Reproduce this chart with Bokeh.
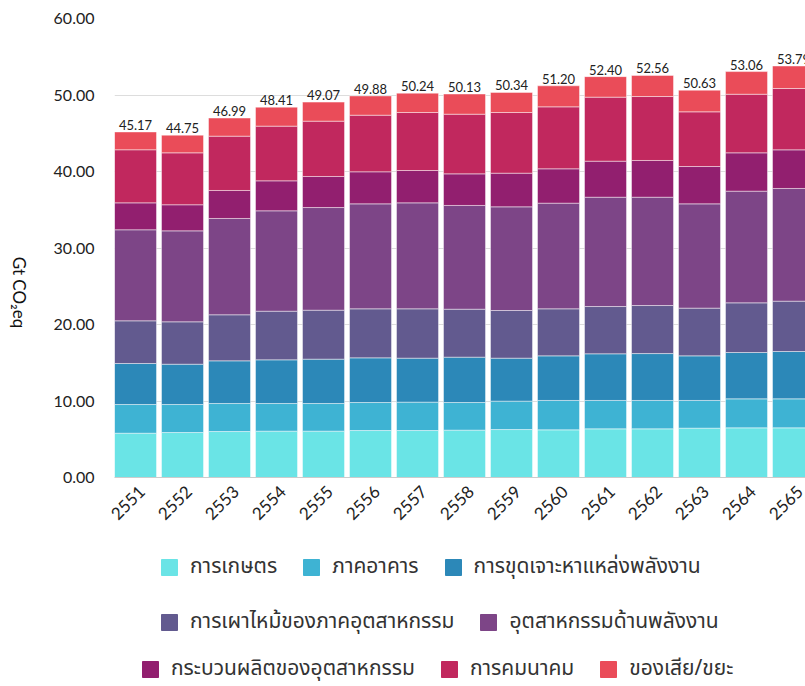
import math
from bokeh.plotting import figure
from bokeh.layouts import column, row
from bokeh.models import (ColumnDataSource, Range1d, FixedTicker, Legend, LegendItem,
                          Label, NumeralTickFormatter)
from bokeh.core.properties import value
from bokeh.embed import file_html
from bokeh.resources import INLINE

years = ["2551", "2552", "2553", "2554", "2555", "2556", "2557", "2558",
         "2559", "2560", "2561", "2562", "2563", "2564", "2565"]

agriculture = [5.79, 5.88, 6.01, 6.06, 6.06, 6.14, 6.14, 6.19, 6.27, 6.23, 6.36, 6.36, 6.45, 6.49, 6.49]
buildings = [3.75, 3.66, 3.66, 3.61, 3.61, 3.66, 3.71, 3.61, 3.71, 3.84, 3.71, 3.71, 3.62, 3.79, 3.79]
fuel_exploitation = [5.36, 5.27, 5.58, 5.71, 5.80, 5.84, 5.75, 5.93, 5.62, 5.83, 6.10, 6.13, 5.83, 6.06, 6.19]
industrial_combustion = [5.58, 5.54, 6.02, 6.36, 6.40, 6.41, 6.45, 6.27, 6.23, 6.15, 6.18, 6.28, 6.24, 6.49, 6.58]
power_industry = [11.90, 11.89, 12.59, 13.12, 13.42, 13.72, 13.85, 13.56, 13.55, 13.81, 14.29, 14.16, 13.63, 14.60, 14.73]
industrial_processes = [3.52, 3.41, 3.66, 3.92, 4.06, 4.19, 4.23, 4.13, 4.40, 4.49, 4.71, 4.80, 4.88, 5.01, 5.05]
transport = [6.94, 6.79, 7.10, 7.15, 7.23, 7.40, 7.58, 7.80, 7.93, 8.10, 8.37, 8.36, 7.15, 7.66, 8.02]
waste = [2.33, 2.31, 2.37, 2.48, 2.49, 2.52, 2.53, 2.64, 2.63, 2.75, 2.68, 2.76, 2.83, 2.96, 2.94]

totals = [45.17, 44.75, 46.99, 48.41, 49.07, 49.88, 50.24, 50.13, 50.34, 51.20,
          52.40, 52.56, 50.63, 53.06, 53.79]

y_ticks = [0, 10, 20, 30, 40, 50, 60]
y_title = "Gt CO₂eq"

series_names = ["การเกษตร", "ภาคอาคาร", "การขุดเจาะหาแหล่งพลังงาน",
                "การเผาไหม้ของภาคอุตสาหกรรม", "อุตสาหกรรมด้านพลังงาน",
                "กระบวนผลิตของอุตสาหกรรม", "การคมนาคม", "ของเสีย/ขยะ"]
colors = ["#6AE4E6", "#3EB3D3", "#2C88B8", "#625A8F", "#7D4587",
          "#921F6F", "#C1285E", "#EA4C59"]

series = [agriculture, buildings, fuel_exploitation, industrial_combustion,
          power_industry, industrial_processes, transport, waste]
keys = ["s%d" % i for i in range(len(series))]

xs = list(range(len(years)))
data = dict(x=xs, total=totals, label=["%.2f" % t for t in totals])
for k, s in zip(keys, series):
    data[k] = s
src = ColumnDataSource(data)

FONT = "Lato"
THAI = "Noto Sans Thai, Noto Sans, sans-serif"

TOTAL_W, TOTAL_H = 805, 686
TITLE_W = 40
MAIN_H = 530

# ---------------- main chart ----------------
p = figure(width=TOTAL_W - TITLE_W, height=MAIN_H, output_backend="svg",
           toolbar_location=None,
           x_range=Range1d(-0.447, 14.255), y_range=Range1d(0, 60),
           min_border_left=74, min_border_right=0, min_border_top=18,
           min_border_bottom=53)
p.outline_line_color = None
p.background_fill_color = "white"
p.border_fill_color = "white"

renderers = p.vbar_stack(keys, x="x", width=0.894, fill_color=colors,
                         line_color="white", line_alpha=0.45, line_width=1,
                         source=src)

p.text(x="x", y="total", text="label", source=src, text_align="center",
       text_baseline="bottom", y_offset=-2, text_font=value(FONT),
       text_font_size="13px", text_color="#222222")

p.yaxis.ticker = FixedTicker(ticks=y_ticks)
p.yaxis.formatter = NumeralTickFormatter(format="0.00")
p.yaxis.axis_line_color = None
p.yaxis.major_tick_line_color = None
p.yaxis.minor_tick_line_color = None
p.yaxis.major_label_text_font = FONT
p.yaxis.major_label_text_font_size = "16px"
p.yaxis.major_label_text_color = "#222222"
p.yaxis.major_label_standoff = 14

# tick labels sit slightly right of the bar centre, as in the source chart
label_shift = 0.13
tick_pos = [round(i + label_shift, 2) for i in xs]
p.xaxis.ticker = FixedTicker(ticks=tick_pos)
p.xaxis.major_label_overrides = {tp: y for tp, y in zip(tick_pos, years)}
p.xaxis.major_label_orientation = math.pi / 4
p.xaxis.axis_line_color = "#cccccc"
p.xaxis.major_tick_line_color = None
p.xaxis.minor_tick_line_color = None
p.xaxis.major_tick_out = 0
p.xaxis.major_label_standoff = 11
p.xaxis.major_label_text_font = FONT
p.xaxis.major_label_text_font_size = "17px"
p.xaxis.major_label_text_color = "#222222"

p.xgrid.grid_line_color = None
p.ygrid.grid_line_color = "#dddddd"

# ---------------- y-axis title (reads top to bottom) ----------------
t = figure(width=TITLE_W, height=MAIN_H, output_backend="svg", toolbar_location=None,
           x_axis_type=None, y_axis_type=None, min_border=0,
           x_range=Range1d(0, 1), y_range=Range1d(0, 1))
t.outline_line_color = None
t.grid.grid_line_color = None
t.add_layout(Label(x=19, y=185, x_units="screen", y_units="screen",
                   text=y_title, angle=-math.pi / 2,
                   text_align="center", text_baseline="middle",
                   text_font=FONT, text_font_size="17px", text_color="#111111"))

# ---------------- legend ----------------
LEG_H = TOTAL_H - MAIN_H
lg = figure(width=TOTAL_W, height=LEG_H, output_backend="svg", toolbar_location=None,
            x_axis_type=None, y_axis_type=None, min_border=0,
            x_range=Range1d(1000, 1001), y_range=Range1d(1000, 1001))
lg.outline_line_color = None
lg.grid.grid_line_color = None

# swatch renderers share the chart data but lie outside this strip's view
swatches = lg.vbar_stack(keys, x="x", width=0.894, fill_color=colors,
                         line_color=colors, source=src)

items = [LegendItem(label=n, renderers=[r]) for n, r in zip(series_names, swatches)]
rows_items = [items[0:3], items[3:5], items[5:8]]
# (left x, bottom y) in pixels within the legend strip
locs = [(159, TOTAL_H - 582), (159, TOTAL_H - 637), (140, TOTAL_H - 684)]
for row_items, loc in zip(rows_items, locs):
    leg = Legend(items=row_items, orientation="horizontal", location=loc,
                 glyph_width=20, glyph_height=20, label_standoff=11, spacing=24,
                 padding=0, margin=0, border_line_color=None,
                 background_fill_alpha=0, label_text_font=THAI,
                 label_text_font_size="21px", label_text_color="#333333",
                 label_height=20, label_text_baseline="middle")
    lg.add_layout(leg)

layout = column(row(t, p), lg)
open("out.html", "w").write(file_html(layout, INLINE))
